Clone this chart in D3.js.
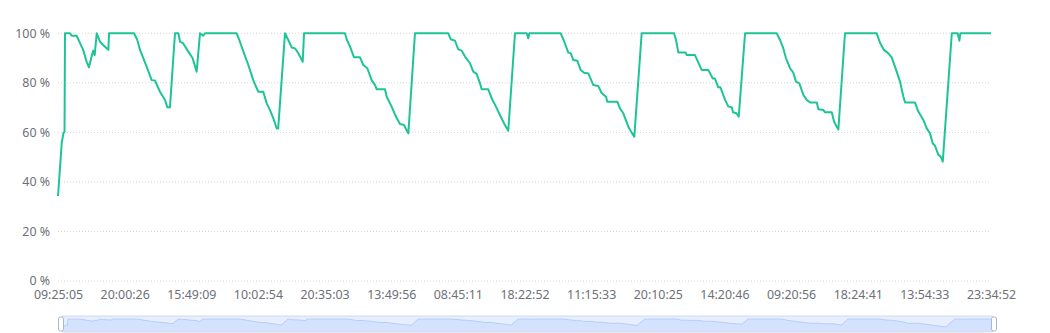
<!DOCTYPE html>
<html>
<head>
<meta charset="utf-8">
<script src="https://cdn.jsdelivr.net/npm/d3@7"></script>
<style>
  body { margin: 0; background: #fff; }
  svg text { font-family: "Noto Sans", sans-serif; font-size: 12.4px; fill: #6E7079; }
</style>
</head>
<body>
<svg id="chart" width="1050" height="333"></svg>
<script>
// sample position along the category axis (0..1000) and usage in %
var samplePos = [0,4,5.7,7,7.5,12.9,14.7,20,23.6,27,30.7,33.2,36,37.8,39.3,41.5,45,50.4,54,54.7,
  81.5,85,87.9,95,100.4,104,109.3,114.7,117.2,120,125.4,129,130.8,134,139.7,144.3,148.6,152.2,155.7,157.5,
  191.5,195,199.4,204,209.3,213,214.7,220,223.7,227.2,230.8,234.4,236,243.3,246.8,250.4,254,256.5,259.4,262.3,263.7,
  307.6,309.4,313,317.3,323.7,327.2,331.5,336.2,339.8,341.6,350.5,352.3,357.6,362.3,366.6,370.8,375.5,382.6,
  418.3,420.9,425.5,429,432.7,436.2,441.6,445.1,448.7,452.3,454.1,461.2,464.8,469.4,473.7,478,482.6,489.8,
  502.4,504,505.2,538.8,541.6,547,549.5,552.3,556.6,560.2,563.8,568.4,573.8,579.1,582.8,587.4,588.7,599.5,
  602.3,605.9,611.3,614.9,617.7,625.6,660.3,662.4,664.9,672.8,673.9,682.7,689.9,697,701.7,704,707.7,710,
  715,718.5,722,723.5,727.1,729.6,736.4,770.3,773.9,777.4,780.3,784.6,788.1,791,794.6,798.9,802.5,806.1,
  813.2,815,820.4,822.2,829.3,831.8,836.4,843.5,877.5,881,885.3,889.9,893.6,898.9,902.5,906.1,907.9,918.5,
  922.1,927.5,931.1,934.6,937.5,940,943.6,946.1,948.3,958,964.3,966.1,967.2,1000];
var usage = [34.3,55.6,59.6,60.3,100,100,99,99,96,93.3,88.5,86.3,90.6,93,91.2,100,96.6,94.6,93.3,100,
  100,97.3,93.3,86.5,81.1,80.9,76.4,73.1,70.1,70.1,100,100,96.6,96,92.6,89.9,84.5,100,99,100,
  100,96.6,91.9,87.2,81.1,77.8,76.4,76.4,71.7,69,65.7,61.6,61.6,100,97.3,94.3,93.9,92.6,90.6,88.5,100,
  100,97.6,94.6,90.3,90.3,87.2,85.9,81.1,79.1,77.4,77.4,74.4,70.4,66.3,63.4,63,59.6,100,
  100,97.6,97,93.5,93,90.6,87.9,84.5,83.6,79.8,77.4,77.4,73.8,70.4,67,63.7,60.7,100,
  100,98,100,100,97.6,92.2,92,89.2,88.9,85.2,84.1,83.8,79.1,78.7,75.8,74.4,72.4,72.4,
  69.7,67.7,62.3,59.9,58.3,100,100,97.3,92.2,92.2,91.2,91.2,85.2,85.2,81.8,81.8,78.2,78.2,
  73.1,70.4,70.2,68.1,67.7,66.3,100,100,97.3,93.9,89.9,85.9,84.1,80.5,79.8,75.1,73.1,72.1,
  72.1,69.3,69,68.1,68.1,64.3,61.2,100,100,96.2,93.3,91.9,90.3,84.5,80.5,74.4,72.1,72.1,
  68.4,65,61.6,59.6,55.6,54.6,50.9,50.2,48.2,100,100,97,100,100];
var timeLabels = ["09:25:05","20:00:26","15:49:09","10:02:54","20:35:03","13:49:56","08:45:11",
  "18:22:52","11:15:33","20:10:25","14:20:46","09:20:56","18:24:41","13:54:33","23:34:52"];
var yTicks = [0,20,40,60,80,100];

var data = samplePos.map(function(p, i){ return {pos: p, val: usage[i]}; });
// labels are spread evenly over the samples
var labelPos = timeLabels.map(function(d, i){ return i * 1000 / (timeLabels.length - 1); });

var svg = d3.select("#chart");
var gLeft = 58, gRight = 991, gTop = 33.3, gBottom = 281;

var x = d3.scaleLinear().domain([0, 1000]).range([gLeft, gRight]);
var y = d3.scaleLinear().domain([0, 100]).range([gBottom, gTop]);

// grid
svg.append("g").selectAll("line").data(yTicks).enter().append("line")
  .attr("x1", gLeft).attr("x2", gRight)
  .attr("y1", function(d){ return y(d); }).attr("y2", function(d){ return y(d); })
  .attr("stroke", "#d6d6d6").attr("stroke-width", 1).attr("stroke-dasharray", "1,2");

// y labels
svg.append("g").selectAll("text").data(yTicks).enter().append("text")
  .attr("x", gLeft - 8).attr("y", function(d){ return y(d); })
  .attr("dy", "0.35em").attr("text-anchor", "end")
  .text(function(d){ return d + " %"; });

// x labels
var xAxis = d3.axisBottom(x).tickValues(labelPos).tickSize(0).tickPadding(9)
  .tickFormat(function(d, i){ return timeLabels[i]; });
var gx = svg.append("g").attr("transform", "translate(0," + gBottom + ")").call(xAxis);
gx.select(".domain").remove();

// series line
var line = d3.line().x(function(d){ return x(d.pos); }).y(function(d){ return y(d.val); });
svg.append("path").datum(data).attr("d", line)
  .attr("fill", "none").attr("stroke", "#1ec496").attr("stroke-width", 2)
  .attr("stroke-linejoin", "round");

// data zoom slider
var sx0 = 61, sx1 = 994, sy0 = 316, sy1 = 332;
var ext = d3.extent(usage);
var off = (ext[1] - ext[0]) * 0.3;
var sxs = d3.scaleLinear().domain([0, 1000]).range([sx0, sx1]);
var sys = d3.scaleLinear().domain([ext[0] - off, ext[1] + off]).range([sy1, sy0]);

svg.append("rect").attr("x", sx0).attr("y", sy0).attr("width", sx1 - sx0).attr("height", sy1 - sy0)
  .attr("fill", "rgb(135,175,255)").attr("fill-opacity", 0.2);
var area = d3.area().x(function(d){ return sxs(d.pos); }).y0(sy1).y1(function(d){ return sys(d.val); });
svg.append("path").datum(data).attr("d", area).attr("fill", "#8fb0f7").attr("fill-opacity", 0.2);
svg.append("path").datum(data).attr("d", d3.line().x(function(d){ return sxs(d.pos); }).y(function(d){ return sys(d.val); }))
  .attr("fill", "none").attr("stroke", "#8fb0f7").attr("stroke-width", 0.5);
svg.append("rect").attr("x", sx0).attr("y", sy0).attr("width", sx1 - sx0).attr("height", sy1 - sy0)
  .attr("fill", "none").attr("stroke", "#d2dbee").attr("rx", 2);

[sx0, sx1].forEach(function(hx){
  svg.append("rect").attr("x", hx - 2.5).attr("y", sy0 + 1).attr("width", 5).attr("height", 14)
    .attr("rx", 2).attr("fill", "#fff").attr("stroke", "#acb8d1").attr("stroke-width", 1);
});
</script>
</body>
</html>
